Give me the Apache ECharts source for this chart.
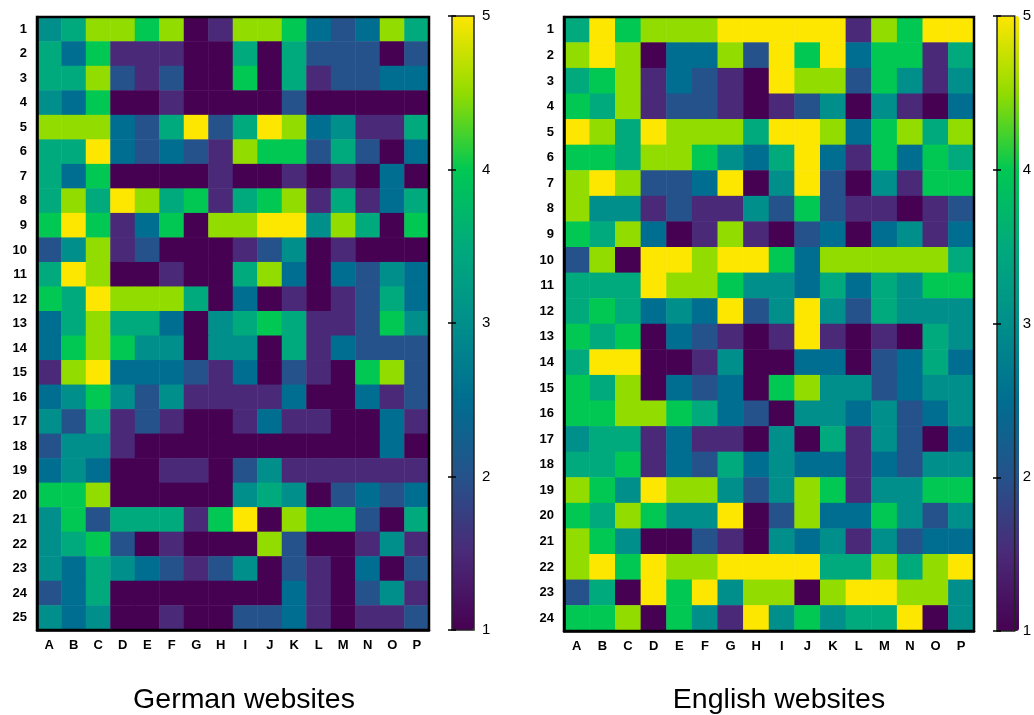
<!DOCTYPE html>
<html>
<head>
<meta charset="utf-8">
<script src="https://cdn.jsdelivr.net/npm/echarts@6/dist/echarts.min.js"></script>
<style>
  html, body { margin: 0; padding: 0; background: #fff; }
  #chart { width: 1034px; height: 715px; }
</style>
</head>
<body>
<div id="chart"></div>
<script>
const columns = ['A', 'B', 'C', 'D', 'E', 'F', 'G', 'H', 'I', 'J', 'K', 'L', 'M', 'N', 'O', 'P']
const germanRows = ['1', '2', '3', '4', '5', '6', '7', '8', '9', '10', '11', '12', '13',
  '14', '15', '16', '17', '18', '19', '20', '21', '22', '23', '24', '25']
const englishRows = ['1', '2', '3', '4', '5', '6', '7', '8', '9', '10', '11', '12', '13',
  '14', '15', '16', '17', '18', '19', '20', '21', '22', '23', '24']
const panelTitles = ['German websites', 'English websites']

// one row per website, columns A..P
const germanValues = [
  [3, 3.5, 4.5, 4.5, 4, 4.5, 1, 1.5, 4.5, 4.5, 4, 2.5, 2, 2.5, 4.5, 3.5],
  [3.5, 2.5, 4, 1.5, 1.5, 1.5, 1, 1, 3.5, 1, 3.5, 2, 2, 2, 1, 2],
  [3.5, 3.5, 4.5, 2, 1.5, 2, 1, 1, 4, 1, 3.5, 1.5, 2, 2, 2.5, 2.5],
  [3, 2.5, 4, 1, 1, 1.5, 1, 1, 1, 1, 2, 1, 1, 1, 1, 1],
  [4.5, 4.5, 4.5, 2.5, 2, 3.5, 5, 2, 3.5, 5, 4.5, 2.5, 3, 1.5, 1.5, 3.5],
  [3.5, 3.5, 5, 2.5, 2, 2.5, 2, 1.5, 4.5, 4, 4, 2, 3.5, 2, 1, 2.5],
  [3.5, 2.5, 4, 1, 1, 1, 1, 1.5, 1, 1, 1.5, 1, 1.5, 1, 2.5, 1],
  [3.5, 4.5, 3.5, 5, 4.5, 3.5, 4, 1.5, 3.5, 4, 4.5, 1.5, 3.5, 1.5, 2.5, 3.5],
  [4, 5, 4, 1.5, 2.5, 4, 1, 4.5, 4.5, 5, 5, 3, 4.5, 3.5, 1, 4],
  [2, 3, 4.5, 1.5, 2, 1, 1, 1, 1.5, 2, 3, 1, 1.5, 1, 1, 1],
  [3.5, 5, 4.5, 1, 1, 1.5, 1, 1, 3.5, 4.5, 2.5, 1, 2.5, 2, 3, 2.5],
  [4, 3.5, 5, 4.5, 4.5, 4.5, 3.5, 1, 2.5, 1, 1.5, 1, 1.5, 2, 3.5, 2.5],
  [2.5, 3.5, 4.5, 3.5, 3.5, 2.5, 1, 3, 3.5, 4, 3.5, 1.5, 1.5, 2, 4, 3],
  [2.5, 4, 4.5, 4, 3, 3, 1, 3, 3, 1, 3.5, 1.5, 2.5, 2, 2, 2],
  [1.5, 4.5, 5, 2.5, 2.5, 2.5, 2, 1.5, 2.5, 1, 2, 1.5, 1, 4, 4.5, 2],
  [2.5, 3, 4, 3, 2, 3, 1.5, 1.5, 1.5, 1.5, 2.5, 1, 1, 2.5, 1.5, 2],
  [3, 2, 3.5, 1.5, 2, 1.5, 1, 1, 1.5, 2.5, 1.5, 1.5, 1, 1, 2.5, 1.5],
  [2, 3, 3, 1.5, 1, 1, 1, 1, 1, 1, 1, 1, 1, 1, 2.5, 1],
  [2.5, 3, 2.5, 1, 1, 1.5, 1.5, 1, 2, 3, 1.5, 1.5, 1.5, 1.5, 1.5, 1.5],
  [4, 4, 4.5, 1, 1, 1, 1, 1, 3, 3.5, 3, 1, 2, 2.5, 2, 2.5],
  [3, 4, 2, 3.5, 3.5, 3.5, 1.5, 4, 5, 1, 4.5, 4, 4, 2, 1, 3.5],
  [3, 3.5, 4, 2, 1, 1.5, 1, 1, 1, 4.5, 2, 1, 1, 1.5, 3, 1.5],
  [3, 2.5, 3.5, 3, 2.5, 2, 1.5, 2, 3, 1, 2, 1.5, 1, 2.5, 1, 2],
  [2, 2.5, 3.5, 1, 1, 1, 1, 1, 1, 1, 2.5, 1.5, 1, 2, 3, 1.5],
  [3, 2.5, 3, 1, 1, 1.5, 1, 1, 2, 2, 2.5, 1.5, 1, 1.5, 1.5, 2],
]

const englishValues = [
  [3.5, 5, 4, 4.5, 4.5, 4.5, 5, 5, 5, 5, 5, 1.5, 4.5, 4, 5, 5],
  [4.5, 5, 4.5, 1, 2.5, 2.5, 4.5, 2, 5, 4, 5, 2.5, 4, 4, 1.5, 3.5],
  [3.5, 4, 4.5, 1.5, 2.5, 2, 1.5, 1, 5, 4.5, 4.5, 2, 4, 3, 1.5, 3],
  [4, 3.5, 4.5, 1.5, 2, 2, 1.5, 1, 1.5, 2, 3, 1, 3, 1.5, 1, 2.5],
  [5, 4.5, 3.5, 5, 4.5, 4.5, 4.5, 3.5, 5, 5, 4.5, 2.5, 4, 4.5, 3.5, 4.5],
  [4, 4, 3.5, 4.5, 4.5, 4, 3, 2.5, 3.5, 5, 2.5, 1.5, 4, 2.5, 4, 3.5],
  [4.5, 5, 4.5, 2, 2, 2.5, 5, 1, 3, 5, 2, 1, 3, 1.5, 4, 4],
  [4.5, 3, 3, 1.5, 2, 1.5, 1.5, 3, 2, 4, 2, 1.5, 1.5, 1, 1.5, 2],
  [4, 3.5, 4.5, 2.5, 1, 1.5, 4.5, 1.5, 1, 2, 2.5, 1, 2.5, 3, 1.5, 2.5],
  [2, 4.5, 1, 5, 5, 4.5, 5, 5, 4, 2.5, 4.5, 4.5, 4.5, 4.5, 4.5, 3.5],
  [3.5, 3.5, 3.5, 5, 4.5, 4.5, 4, 3, 3, 2.5, 3.5, 2.5, 3.5, 3, 4, 4],
  [3.5, 4, 3.5, 2.5, 3, 2.5, 5, 2, 3, 5, 3, 2, 3.5, 3, 3, 3],
  [4, 3.5, 4, 1, 2.5, 2, 1.5, 1, 1.5, 5, 1.5, 1, 1.5, 1, 3.5, 3],
  [3.5, 5, 5, 1, 1, 1.5, 3, 1, 1, 2.5, 2.5, 1, 2, 2.5, 3.5, 2.5],
  [4, 3.5, 4.5, 1, 2.5, 2, 2.5, 1, 4, 4.5, 3, 3, 2, 2.5, 3, 3],
  [4, 4, 4.5, 4.5, 4, 3.5, 2.5, 2, 1, 3, 3, 2.5, 3, 2, 2.5, 3],
  [3, 3.5, 3.5, 1.5, 2.5, 1.5, 1.5, 1, 3, 1, 3.5, 1.5, 3, 2, 1, 2.5],
  [3.5, 3.5, 4, 1.5, 2.5, 2, 3.5, 2.5, 3, 2.5, 2.5, 1.5, 2.5, 2, 3, 3],
  [4.5, 4, 3, 5, 4.5, 4.5, 3, 2, 3, 4.5, 4, 1.5, 3, 3, 4, 4],
  [4, 3.5, 4.5, 4, 3, 3, 5, 1, 2, 4.5, 2.5, 2.5, 4, 3, 2, 3],
  [4.5, 4, 3, 1, 1, 2, 1.5, 1, 3, 2.5, 3, 1.5, 3, 2, 2.5, 2.5],
  [4.5, 5, 4, 5, 4.5, 4.5, 5, 5, 5, 5, 3.5, 3.5, 4.5, 3.5, 4.5, 5],
  [2, 3.5, 1, 5, 4, 5, 3, 4.5, 4.5, 1, 4.5, 5, 5, 4.5, 4.5, 3],
  [4, 4, 4.5, 1, 4, 3, 1.5, 5, 3, 4, 3, 3.5, 3.5, 5, 1, 3],
]

const scaleMin = 1
const scaleMax = 5
const palette = ['#470152', '#4a2a78', '#25528a', '#006e90', '#008f8b',
  '#00aa7c', '#00c853', '#93dc00', '#fde600']

function toCells(matrix) {
  const cells = []
  matrix.forEach((row, r) => row.forEach((v, c) => cells.push([c, r, v])))
  return cells
}

const font = 'Liberation Sans, Arial, sans-serif'

// heatmap panels and colour bars
const panels = [
  { grid: { left: 37, top: 17, width: 392, height: 613 }, rows: germanRows, values: germanValues,
    bar: { left: 452, top: 16, width: 22, height: 614 }, titleX: 244 },
  { grid: { left: 564, top: 17, width: 410, height: 614 }, rows: englishRows, values: englishValues,
    bar: { left: 997, top: 16, width: 22, height: 615 }, titleX: 779 },
]

const grid = []
const xAxis = []
const yAxis = []
const series = []
const visualMap = []
const title = []

panels.forEach((p, i) => {
  const gi = grid.length
  grid.push({ ...p.grid, show: true, borderColor: '#000', borderWidth: 2.5, z: 5 })
  const xi = xAxis.length
  xAxis.push({
    type: 'category', gridIndex: gi, data: columns, position: 'bottom',
    axisLine: { lineStyle: { color: '#000', width: 2.5 } },
    axisTick: { alignWithLabel: true, length: 7, lineStyle: { color: '#000', width: 2 } },
    axisLabel: { color: '#000', fontFamily: font, fontWeight: 'bold', fontSize: 13, margin: 9 },
    splitLine: { show: false }, z: 6,
  })
  const yi = yAxis.length
  yAxis.push({
    type: 'category', gridIndex: gi, data: p.rows, inverse: true,
    axisLine: { lineStyle: { color: '#000', width: 2.5 } },
    axisTick: { alignWithLabel: true, length: 7, lineStyle: { color: '#000', width: 2 } },
    axisLabel: { color: '#000', fontFamily: font, fontWeight: 'bold', fontSize: 13, margin: 10 },
    splitLine: { show: false }, z: 6,
  })
  const si = series.length
  series.push({
    type: 'heatmap', xAxisIndex: xi, yAxisIndex: yi,
    data: toCells(p.values), itemStyle: { borderWidth: 0 }, emphasis: { disabled: true },
  })
  visualMap.push({
    type: 'continuous', seriesIndex: si, min: scaleMin, max: scaleMax,
    orient: 'vertical', left: p.bar.left, top: p.bar.top, itemWidth: p.bar.width,
    itemHeight: p.bar.height, padding: 0, calculable: false, text: null,
    inRange: { color: palette }, hoverLink: false,
  })
  // colour bar frame, ticks and labels
  const bi = grid.length
  grid.push({ ...p.bar, show: true, borderColor: '#222', borderWidth: 1.5, z: 8 })
  xAxis.push({ type: 'value', gridIndex: bi, show: false })
  yAxis.push({
    type: 'value', gridIndex: bi, min: scaleMin, max: scaleMax, interval: 1, position: 'right',
    axisLine: { show: false }, splitLine: { show: false },
    axisTick: { inside: true, length: 4, lineStyle: { color: '#000', width: 1.5 } },
    axisLabel: { color: '#000', fontFamily: font, fontSize: 15, margin: 8 }, z: 9,
  })
  yAxis.push({
    type: 'value', gridIndex: bi, min: scaleMin, max: scaleMax, interval: 1, position: 'left',
    axisLine: { show: false }, splitLine: { show: false }, axisLabel: { show: false },
    axisTick: { inside: true, length: 4, lineStyle: { color: '#000', width: 1.5 } }, z: 9,
  })
  title.push({
    text: panelTitles[i], left: p.titleX, top: 686, textAlign: 'center', padding: 0,
    textStyle: { fontFamily: font, fontWeight: 'normal', fontSize: 28.5, color: '#000' },
  })
})

const chart = echarts.init(document.getElementById('chart'), null, { renderer: 'canvas' })
chart.setOption({
  animation: false,
  backgroundColor: '#fff',
  title, grid, xAxis, yAxis, visualMap, series,
})
</script>
</body>
</html>
